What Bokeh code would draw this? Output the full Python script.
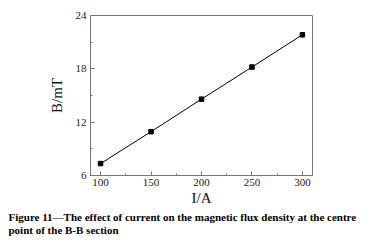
from bokeh.plotting import figure
from bokeh.models import FixedTicker, Title
from bokeh.embed import file_html
from bokeh.resources import INLINE

current = [100, 150, 200, 250, 300]
flux = [7.34, 10.93, 14.59, 18.2, 21.83]
x_ticks = [100, 150, 200, 250, 300]
x_minor = [125, 175, 225, 275]
y_ticks = [6, 12, 18, 24]
y_minor = [9, 15, 21]
caption1 = "Figure 11\u2014The effect of current on the magnetic flux density at the centre"
caption2 = "point of the B-B section"

p = figure(frame_width=222, frame_height=160, x_range=(90, 310), y_range=(6, 24),
           output_backend="svg", toolbar_location=None,
           min_border_left=90, min_border_right=46, min_border_top=15, min_border_bottom=10)
p.background_fill_color = "white"
p.border_fill_color = "white"
p.grid.visible = False
p.outline_line_color = "#777777"
p.outline_line_width = 1

p.line(current, flux, line_color="black", line_width=1)
p.scatter(current, flux, marker="square", size=4.5, fill_color="black", line_color="black")

for ax in (p.xaxis[0], p.yaxis[0]):
    ax.axis_line_color = "#777777"
    ax.major_tick_line_color = "#777777"
    ax.minor_tick_line_color = "#777777"
    ax.major_tick_in = 4
    ax.major_tick_out = 0
    ax.minor_tick_in = 2
    ax.minor_tick_out = 0
    ax.major_label_text_font = "Liberation Serif"
    ax.major_label_text_font_size = "11px"
    ax.major_label_text_color = "#222222"
    ax.axis_label_text_font = "Liberation Serif"
    ax.axis_label_text_font_size = "15px"
    ax.axis_label_text_font_style = "normal"
    ax.axis_label_text_color = "#111111"

p.xaxis[0].ticker = FixedTicker(ticks=x_ticks, minor_ticks=x_minor)
p.yaxis[0].ticker = FixedTicker(ticks=y_ticks, minor_ticks=y_minor)
p.xaxis[0].axis_label = "I/A"
p.yaxis[0].axis_label = "B/mT"
p.xaxis[0].major_label_standoff = 3
p.xaxis[0].axis_label_standoff = 1
p.yaxis[0].major_label_standoff = 4
p.yaxis[0].axis_label_standoff = 8

t = Title(text=caption1 + "\n" + caption2, align="left", text_font="Liberation Serif",
          text_font_size="11px", text_font_style="bold", text_color="black",
          text_line_height=1.15, standoff=0, offset=-82)
p.add_layout(t, "below")

open("out.html", "w").write(file_html(p, INLINE))
